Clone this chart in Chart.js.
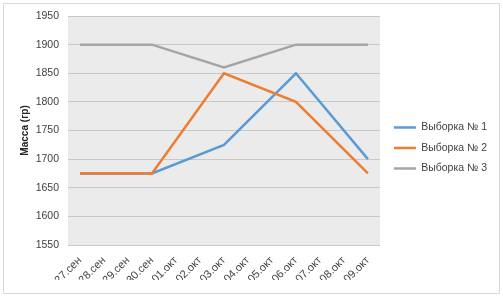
<!DOCTYPE html>
<html>
<head>
<meta charset="utf-8">
<script src="https://cdn.jsdelivr.net/npm/chart.js@4/dist/chart.umd.min.js"></script>
<style>
  html, body { margin: 0; padding: 0; background: #fff; }
  #wrap { width: 503px; height: 297px; }
</style>
</head>
<body>
<div id="wrap"><canvas id="chart" width="503" height="297"></canvas></div>
<script>
const labels = ["27.сен", "28.сен", "29.сен", "30.сен", "01.окт", "02.окт", "03.окт",
  "04.окт", "05.окт", "06.окт", "07.окт", "08.окт", "09.окт"];

// measurements only on 27.сен, 30.сен, 03.окт, 06.окт, 09.окт
const sample1 = [1675, null, null, 1675, null, null, 1725, null, null, 1850, null, null, 1700];
const sample2 = [1675, null, null, 1675, null, null, 1850, null, null, 1800, null, null, 1675];
const sample3 = [1900, null, null, 1900, null, null, 1860, null, null, 1900, null, null, 1900];

const seriesNames = ["Выборка № 1", "Выборка № 2", "Выборка № 3"];
const yTicks = { min: 1550, max: 1950, step: 50 };

const font = "'Liberation Sans', Arial, sans-serif";
const textColor = "#404040";

const plotBg = {
  id: "plotBg",
  beforeDraw(c) {
    const { ctx, chartArea: a } = c;
    ctx.save();
    ctx.fillStyle = "#ffffff";
    ctx.fillRect(0, 0, c.width, c.height);
    ctx.strokeStyle = "#d9d9d9";
    ctx.lineWidth = 1;
    ctx.strokeRect(3.5, 3.5, c.width - 7, c.height - 7);
    ctx.fillStyle = "#ebebeb";
    ctx.fillRect(a.left, a.top, a.right - a.left, a.bottom - a.top);
    ctx.restore();
  }
};

// push the legend a little to the right, leaving a wider gap after the plot
const legendShift = {
  id: "legendShift",
  afterLayout(c) {
    if (c.legend) {
      c.legend.left += 4;
      c.legend.right += 4;
    }
  }
};

const line = (name, data, color, order) => ({
  label: name,
  data,
  borderColor: color,
  backgroundColor: color,
  borderWidth: 2.5,
  pointRadius: 0,
  tension: 0,
  spanGaps: true,
  order
});

new Chart(document.getElementById("chart"), {
  type: "line",
  data: {
    labels,
    datasets: [
      line(seriesNames[0], sample1, "#5b9bd5", 3),
      line(seriesNames[1], sample2, "#ed7d31", 2),
      line(seriesNames[2], sample3, "#a5a5a5", 1)
    ]
  },
  options: {
    responsive: false,
    animation: false,
    layout: { padding: { left: 19, top: 16, right: 10, bottom: 17 } },
    plugins: {
      tooltip: { enabled: false },
      legend: {
        position: "right",
        labels: {
          usePointStyle: true,
          pointStyle: "line",
          pointStyleWidth: 22,
          padding: 10,
          color: textColor,
          font: { family: font, size: 10.5 },
          sort: (a, b) => a.datasetIndex - b.datasetIndex
        }
      }
    },
    scales: {
      x: {
        offset: true,
        grid: { display: false },
        border: { display: true, color: "#c8c8c8" },
        ticks: {
          autoSkip: false,
          maxRotation: 45,
          minRotation: 45,
          padding: 1,
          color: textColor,
          font: { family: font, size: 11 }
        },
        afterFit(s) { s.height = 35; }
      },
      y: {
        min: yTicks.min,
        max: yTicks.max,
        border: { display: false },
        grid: { color: "#c8c8c8", drawTicks: false },
        ticks: {
          stepSize: yTicks.step,
          padding: 9,
          color: textColor,
          font: { family: font, size: 10.5 },
          callback: v => String(v)
        },
        title: {
          display: true,
          text: "Масса (гр)",
          color: "#262626",
          padding: 0,
          font: { family: font, size: 10, weight: "bold" }
        },
        afterFit(s) { s.width = 49; }
      }
    }
  },
  plugins: [plotBg, legendShift]
});
</script>
</body>
</html>
